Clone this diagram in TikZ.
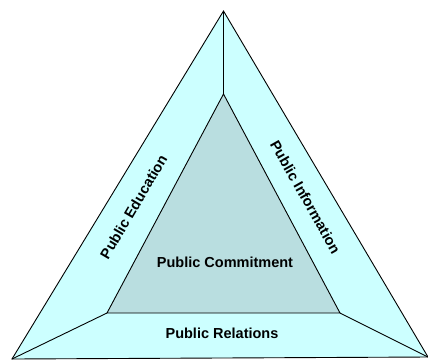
\documentclass[tikz,border=0pt]{standalone}
\usepackage{fontspec}
\setmainfont{Liberation Sans}
\usetikzlibrary{positioning}
\definecolor{bandcyan}{RGB}{204,255,255}
\definecolor{corecyan}{RGB}{185,222,224}

\begin{document}
\begin{tikzpicture}[x=1pt,y=-1pt,
  edge/.style={line width=0.9pt, black},
  band/.style={font=\fontsize{14.5}{16}\selectfont\bfseries, inner sep=0pt}]

\useasboundingbox (0,0) rectangle (428,360);

% corners of the two triangles
\coordinate (outerTop) at (223.5,11);
\coordinate (outerLeft) at (12,359);
\coordinate (outerRight) at (428,357);
\coordinate (innerTop) at (223.5,94);
\coordinate (innerLeft) at (107,313);
\coordinate (innerRight) at (340,313);

\draw[edge, fill=bandcyan] (outerTop)--(outerLeft)--(outerRight)--cycle;
\draw[edge, fill=corecyan] (innerTop)--(innerLeft)--(innerRight)--cycle;

% spokes between the corners
\draw[edge] (outerTop)--(innerTop);
\draw[edge] (outerLeft)--(innerLeft);
\draw[edge] (outerRight)--(innerRight);



\node[band] (commit) at (225,262) {Public Commitment};
\node[band] (relations) at (222,333) {Public Relations};
\node[band, rotate=59.5] (education) at (133.5,207) {Public Education};
\node[band, rotate=-60.5] (information) at (305.5,197) {Public Information};

\end{tikzpicture}
\end{document}
